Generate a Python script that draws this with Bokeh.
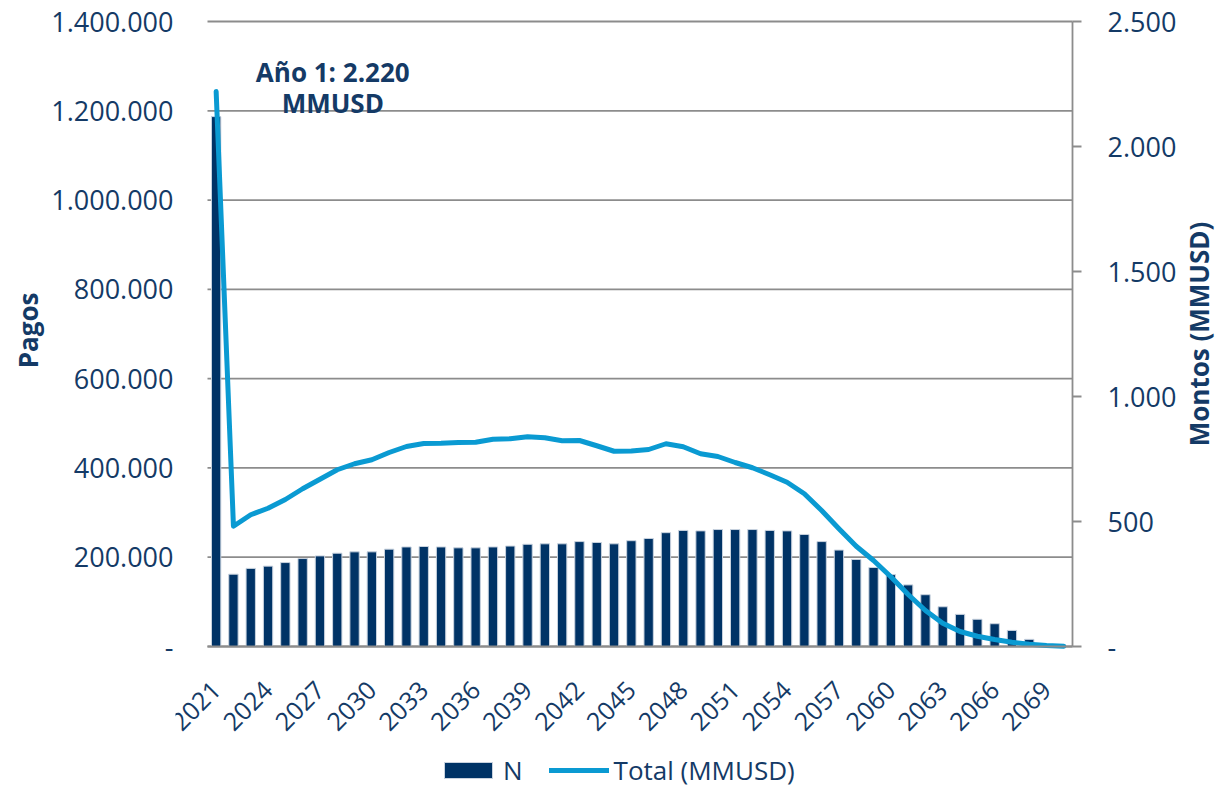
import math
from bokeh.plotting import figure
from bokeh.models import (Range1d, LinearAxis, FixedTicker, CustomJSTickFormatter,
                          Legend, LegendItem, Label, ColumnDataSource)
from bokeh.embed import file_html
from bokeh.resources import INLINE

# ---------------- data ----------------
years = list(range(2021, 2071))
pagos = [1187000, 162000, 175000, 180000, 188000, 197000, 203000, 209000, 212000, 212000,
         218000, 223000, 224000, 223000, 221000, 221000, 223000, 225000, 229000, 230000,
         230000, 235000, 233000, 230000, 237000, 242000, 255000, 260000, 259000, 262000,
         262000, 262000, 260000, 259000, 251000, 235000, 216000, 195000, 177000, 161000,
         138000, 116000, 89000, 72000, 61000, 51000, 36000, 16000, 3000, 0]
montos = [2220, 481, 527, 553, 588, 631, 669, 707, 731, 747,
          776, 800, 812, 813, 816, 817, 829, 831, 839, 835,
          823, 824, 803, 781, 782, 788, 811, 799, 771, 760,
          736, 715, 687, 657, 611, 544, 471, 401, 344, 279,
          208, 144, 93, 60, 41, 28, 17, 9, 4, 1]
x_ticks = [2021, 2024, 2027, 2030, 2033, 2036, 2039, 2042, 2045, 2048,
           2051, 2054, 2057, 2060, 2063, 2066, 2069]
pagos_ticks = [0, 200000, 400000, 600000, 800000, 1000000, 1200000, 1400000]
montos_ticks = [0, 500, 1000, 1500, 2000, 2500]
annot_lines = ["Año 1: 2.220", "MMUSD"]
series_names = ["N", "Total (MMUSD)"]
axis_titles = ["Pagos", "Montos (MMUSD)"]

# ---------------- style / geometry ----------------
TEXT = "#143A66"
BAR = "#003366"
LINE = "#0A9AD2"
GRID = "#8C8C8C"
FONT = "Open Sans"
NBSP = "\u00a0"

PAGOS_MAX, MONTOS_MAX = 1400000, 2500
BELOW_FRAC = 142 / 625            # room below the zero line for years + legend
TOP_FRAC = 21 / 625               # room above the top tick for its label
PX_PER_YEAR = 17.3
X_LO, X_HI = 2020.5, 2070.5       # span of the categories
X_START = X_LO - 32 / PX_PER_YEAR  # room on the left so "2021" is not clipped
X_END = X_HI + 149 / PX_PER_YEAR   # room on the right for the right-hand axis

src = ColumnDataSource(dict(year=years, pagos=pagos, montos=montos))

p = figure(width=1221, height=788, output_backend="svg", toolbar_location=None,
           x_range=Range1d(X_START, X_END),
           y_range=Range1d(-PAGOS_MAX * BELOW_FRAC, PAGOS_MAX * (1 + TOP_FRAC)),
           min_border_left=175, min_border_right=0, min_border_top=0,
           min_border_bottom=0)
p.extra_y_ranges = {"montos": Range1d(-MONTOS_MAX * BELOW_FRAC,
                                      MONTOS_MAX * (1 + TOP_FRAC))}
p.outline_line_color = None
p.background_fill_color = "white"

fmt_code = r"""
if (tick == 0) { return "-"; }
var s = Math.round(tick).toString();
return s.replace(/\B(?=(\d{3})+(?!\d))/g, ".");
"""

# left axis
ax = p.yaxis[0]
ax.ticker = FixedTicker(ticks=pagos_ticks)
ax.formatter = CustomJSTickFormatter(code=fmt_code)
ax.bounds = (0, PAGOS_MAX)
ax.axis_line_color = None
ax.major_tick_line_color = None
ax.minor_tick_line_color = None
ax.major_label_standoff = -4
ax.major_label_text_font = FONT
ax.major_label_text_font_size = "27px"
ax.major_label_text_color = TEXT
ax.axis_label = NBSP * 19 + axis_titles[0]
ax.axis_label_text_font = FONT
ax.axis_label_text_font_style = "bold"
ax.axis_label_text_font_size = "26px"
ax.axis_label_text_color = TEXT
ax.axis_label_standoff = 2

# right axis, drawn at the right end of the categories
ra = LinearAxis(y_range_name="montos", ticker=FixedTicker(ticks=montos_ticks),
                formatter=CustomJSTickFormatter(code=fmt_code))
ra.fixed_location = X_HI
ra.bounds = (0, MONTOS_MAX)
ra.axis_line_color = GRID
ra.axis_line_width = 1.8
ra.major_tick_line_color = GRID
ra.major_tick_line_width = 1.8
ra.major_tick_out = 9
ra.major_tick_in = 0
ra.minor_tick_line_color = None
ra.major_label_standoff = 26
ra.major_label_text_font = FONT
ra.major_label_text_font_size = "27px"
ra.major_label_text_color = TEXT
p.add_layout(ra, "right")

# right axis title (bottom-to-top)
p.add_layout(Label(x=X_HI + 126 / PX_PER_YEAR, y=MONTOS_MAX / 2, y_range_name="montos",
                   text=axis_titles[1], angle=math.pi / 2, text_align="center",
                   text_baseline="middle", text_font=FONT, text_font_size="26px",
                   text_font_style="bold", text_color=TEXT))

# x axis (drawn on the zero line)
xa = p.xaxis[0]
xa.fixed_location = 0
xa.bounds = (X_LO, X_HI)
xa.ticker = FixedTicker(ticks=x_ticks)
xa.major_label_orientation = math.pi / 4
xa.axis_line_color = GRID
xa.axis_line_width = 1.8
xa.major_tick_line_color = None
xa.minor_tick_line_color = None
xa.major_label_standoff = 33
xa.major_label_text_font = FONT
xa.major_label_text_font_size = "25px"
xa.major_label_text_color = TEXT

# horizontal grid lines limited to the category span
p.xgrid.grid_line_color = None
p.ygrid.grid_line_color = None
grid_src = ColumnDataSource(dict(x0=[X_LO] * len(pagos_ticks), x1=[X_HI] * len(pagos_ticks),
                                 y=pagos_ticks))
p.segment(x0="x0", x1="x1", y0="y", y1="y", source=grid_src,
          line_color=GRID, line_width=1.8, level="underlay")

# glyphs
bars = p.vbar(x="year", top="pagos", bottom=0, width=0.54, source=src,
              fill_color=BAR, line_color="#C9D3DF", line_width=1)
line = p.line(x="year", y="montos", y_range_name="montos", source=src,
              line_color=LINE, line_width=5, line_join="round", line_cap="round")

legend = Legend(items=[LegendItem(label=series_names[0], renderers=[bars]),
                       LegendItem(label=series_names[1], renderers=[line])],
                orientation="horizontal", location=(263, 0),
                glyph_width=60, glyph_height=20, spacing=26, padding=0, margin=0,
                label_standoff=5, label_width=0, label_height=0,
                label_text_font=FONT, label_text_font_size="26px",
                label_text_color=TEXT, border_line_color=None,
                background_fill_alpha=0)
p.add_layout(legend)

for txt, yv in zip(annot_lines, [1286000, 1218000]):
    p.add_layout(Label(x=2027.74, y=yv, text=txt, text_align="center",
                       text_baseline="middle", text_font=FONT,
                       text_font_size="26px", text_font_style="bold",
                       text_color=TEXT))

open("out.html", "w").write(file_html(p, INLINE))
